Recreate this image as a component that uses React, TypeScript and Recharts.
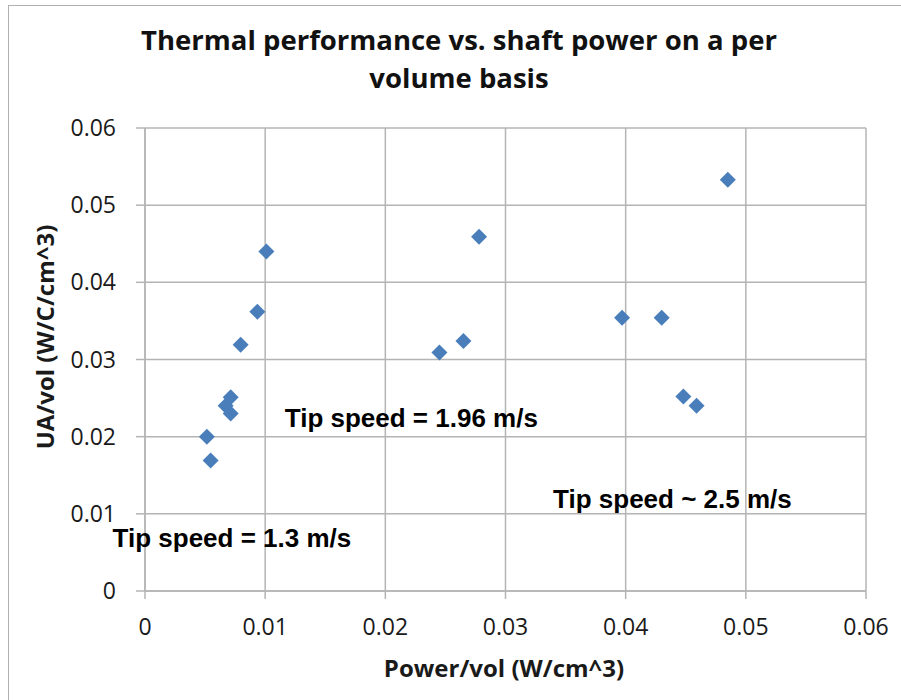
import { ScatterChart, Scatter, XAxis, YAxis, CartesianGrid, ReferenceDot } from 'recharts'

const powerVol = [0.00515, 0.00546, 0.00671, 0.00713, 0.00713, 0.00796, 0.00935, 0.0101, 0.0245, 0.0265, 0.0278, 0.0397, 0.043, 0.0448, 0.0459, 0.0485]
const uaVol = [0.02, 0.0169, 0.024, 0.0251, 0.023, 0.0319, 0.0362, 0.044, 0.0309, 0.0324, 0.0459, 0.0354, 0.0354, 0.0252, 0.024, 0.0533]
const ticks = [0, 0.01, 0.02, 0.03, 0.04, 0.05, 0.06]

const notes = [
  { text: 'Tip speed = 1.96 m/s', x: 0.01163, y: 0.0213 },
  { text: 'Tip speed ~ 2.5 m/s', x: 0.03396, y: 0.01077 },
  { text: 'Tip speed = 1.3 m/s', x: -0.0027, y: 0.00575 },
]

const data = powerVol.map((p, i) => ({ p, ua: uaVol[i] }))

const BLUE = '#4a7ebb'
const GRID = '#b4b4b4'
const tickFont = { fontFamily: 'Open Sans', fontSize: 23, fill: '#1a1a1a' }

const Diamond = (props: any) => {
  const { cx, cy } = props
  const r = 8
  return <polygon points={`${cx},${cy - r} ${cx + r},${cy} ${cx},${cy + r} ${cx - r},${cy}`} fill={BLUE} />
}

const fmt = (v: number) => (v === 0 ? '0' : v.toFixed(2))

export default function App() {
  return (
    <div style={{ position: 'absolute', left: 0, top: 0, width: 901, height: 700, background: '#fff', overflow: 'hidden' }}>
      <div
        style={{
          position: 'absolute', left: 8, top: 5, width: 893, height: 695,
          borderTop: '1.5px solid #b0b0b0', borderLeft: '1.5px solid #b0b0b0',
        }}
      />
      <div
        style={{
          position: 'absolute', left: 0, top: 21, width: 918, textAlign: 'center',
          fontFamily: 'Open Sans', fontWeight: 700, fontSize: 27.5, lineHeight: '38px', color: '#111',
        }}
      >
        Thermal performance vs. shaft power on a per
        <br />
        volume basis
      </div>
      <div style={{ position: 'absolute', left: 0, top: 0 }}>
        <ScatterChart width={901} height={700} margin={{ top: 128, right: 35, left: 0, bottom: 0 }}>
          <CartesianGrid stroke={GRID} strokeWidth={1.5} />
          <XAxis
            type="number"
            dataKey="p"
            domain={[0, 0.06]}
            ticks={ticks}
            tickFormatter={fmt}
            height={109}
            tickSize={8}
            tickMargin={20}
            stroke={GRID}
            strokeWidth={1.5}
            tick={tickFont}
            interval={0}
          />
          <YAxis
            type="number"
            dataKey="ua"
            domain={[0, 0.06]}
            ticks={ticks}
            tickFormatter={fmt}
            width={145}
            tickSize={9}
            tickMargin={20}
            stroke={GRID}
            strokeWidth={1.5}
            tick={tickFont}
            interval={0}
          />
          <Scatter data={data} shape={Diamond} isAnimationActive={false} />
          {notes.map((n) => (
            <ReferenceDot
              key={n.text}
              x={n.x}
              y={n.y}
              r={0}
              ifOverflow="visible"
              shape={(p: any) => (
                <text
                  x={p.cx}
                  y={p.cy}
                  fontFamily="Liberation Sans"
                  fontWeight={700}
                  fontSize={26}
                  fill="#000"
                >
                  {n.text}
                </text>
              )}
            />
          ))}
        </ScatterChart>
      </div>
      <div
        style={{
          position: 'absolute', left: 504, top: 667, transform: 'translate(-50%, -50%)', whiteSpace: 'nowrap',
          fontFamily: 'Open Sans', fontWeight: 700, fontSize: 24, color: '#1a1a1a',
        }}
      >
        Power/vol (W/cm^3)
      </div>
      <div
        style={{
          position: 'absolute', left: 44, top: 337, transform: 'translate(-50%, -50%) rotate(-90deg)', whiteSpace: 'nowrap',
          fontFamily: 'Open Sans', fontWeight: 700, fontSize: 24, color: '#1a1a1a',
        }}
      >
        UA/vol (W/C/cm^3)
      </div>
    </div>
  )
}
